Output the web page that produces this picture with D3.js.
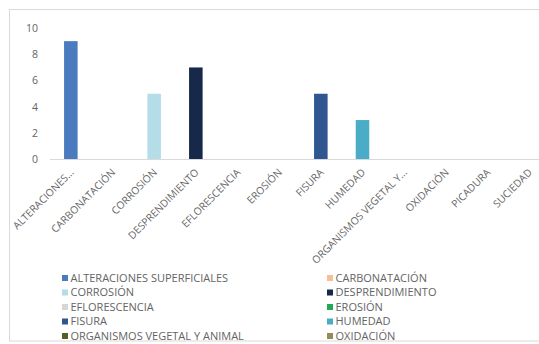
<!DOCTYPE html>
<html>
<head>
<meta charset="utf-8">
<script src="https://cdn.jsdelivr.net/npm/d3@7"></script>
<style>
  html, body { margin: 0; padding: 0; background: #fff; }
  svg { display: block; }
  text { font-family: "Open Sans", "Noto Sans", sans-serif; fill: #646464; }
</style>
</head>
<body>
<svg id="chart" width="539" height="344"></svg>
<script>
// Categories as shown on the axis (Excel-truncated) and their full legend names
const categories = [
  "ALTERACIONES SUPERFICIALES", "CARBONATACIÓN", "CORROSIÓN", "DESPRENDIMIENTO",
  "EFLORESCENCIA", "EROSIÓN", "FISURA", "HUMEDAD",
  "ORGANISMOS VEGETAL Y ANIMAL", "OXIDACIÓN", "PICADURA", "SUCIEDAD"
];
const axisLabels = [
  "ALTERACIONES…", "CARBONATACIÓN", "CORROSIÓN", "DESPRENDIMIENTO",
  "EFLORESCENCIA", "EROSIÓN", "FISURA", "HUMEDAD",
  "ORGANISMOS VEGETAL Y…", "OXIDACIÓN", "PICADURA", "SUCIEDAD"
];
const values = [9, 0, 5, 7, 0, 0, 5, 3, 0, 0, 0, 0];
const colors = [
  "#4a7bbf", "#f9be94", "#b5dde8", "#17294a",
  "#d6d6d6", "#1fab55", "#2f5690", "#4aacc6",
  "#4f6228", "#958b56", "#c0504d", "#8064a2"
];
const yTicks = [0, 2, 4, 6, 8, 10];
// Only the first ten series fit in the legend box
const legendCount = 10;

const svg = d3.select("#chart");

// Chart frame
svg.append("rect")
  .attr("x", 9.5).attr("y", 9.5)
  .attr("width", 545).attr("height", 331.5)
  .attr("fill", "#fff").attr("stroke", "#d9d9d9");

const x = d3.scaleBand()
  .domain(categories)
  .range([50, 550])
  .paddingInner(0.675)
  .paddingOuter(0.3375);

const y = d3.scaleLinear().domain([0, 10]).range([159.5, 28]);

// Value axis labels
svg.append("g")
  .selectAll("text")
  .data(yTicks)
  .join("text")
  .attr("x", 38)
  .attr("y", d => y(d))
  .attr("dy", "0.35em")
  .attr("text-anchor", "end")
  .attr("font-size", 10.5)
  .text(d => d);

// Bars
svg.append("g")
  .selectAll("rect")
  .data(categories.map((c, i) => ({ c, v: values[i], col: colors[i] })))
  .join("rect")
  .attr("x", d => x(d.c))
  .attr("y", d => y(d.v))
  .attr("width", x.bandwidth())
  .attr("height", d => y(0) - y(d.v))
  .attr("fill", d => d.col);

// Category axis baseline
svg.append("line")
  .attr("x1", 50).attr("x2", 550)
  .attr("y1", y(0)).attr("y2", y(0))
  .attr("stroke", "#d9d9d9");

// Rotated category labels
svg.append("g")
  .selectAll("text")
  .data(categories.map((c, i) => ({ c, label: axisLabels[i] })))
  .join("text")
  .attr("transform", d => `translate(${x(d.c) + x.bandwidth() / 2 + 1},${y(0) + 11}) rotate(-45)`)
  .attr("text-anchor", "end")
  .attr("dy", "0.35em")
  .attr("font-size", 10.3)
  .text(d => d.label);

// Legend, two columns
const legend = svg.append("g")
  .selectAll("g")
  .data(categories.slice(0, legendCount).map((c, i) => ({ c, col: colors[i], i })))
  .join("g")
  .attr("transform", d => {
    const col = d.i % 2, row = Math.floor(d.i / 2);
    return `translate(${col === 0 ? 62 : 327},${278 + row * 14.5})`;
  });

legend.append("rect")
  .attr("x", 0).attr("y", -3)
  .attr("width", 6).attr("height", 6)
  .attr("fill", d => d.col);

legend.append("text")
  .attr("x", 8.5)
  .attr("dy", "0.35em")
  .attr("font-size", 11)
  .text(d => d.c);
</script>
</body>
</html>
